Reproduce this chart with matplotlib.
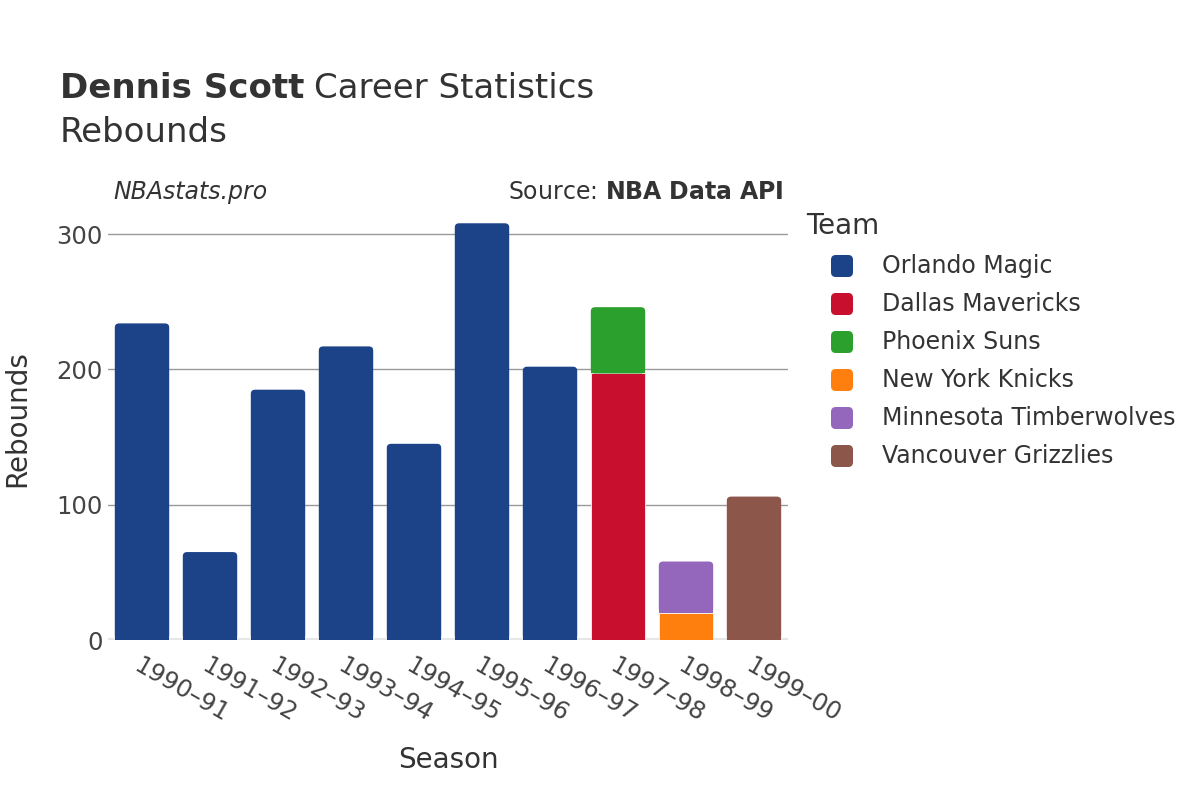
"""Dennis Scott career rebounds by season, stacked by team."""

import matplotlib

matplotlib.use("Agg")

import matplotlib.pyplot as plt
import numpy as np
from matplotlib.patches import FancyBboxPatch, Rectangle

seasons = ["1990–91", "1991–92", "1992–93", "1993–94", "1994–95",
           "1995–96", "1996–97", "1997–98", "1998–99", "1999–00"]
teams = ["Orlando Magic", "Dallas Mavericks", "Phoenix Suns",
         "New York Knicks", "Minnesota Timberwolves", "Vancouver Grizzlies"]
team_colors = ["#1c4287", "#c8102e", "#2ca02c", "#ff7f0e", "#9467bd", "#8c564b"]

orlando = [234, 65, 185, 217, 145, 308, 202, 0, 0, 0]
dallas = [0, 0, 0, 0, 0, 0, 0, 197, 0, 0]
phoenix = [0, 0, 0, 0, 0, 0, 0, 49, 0, 0]
knicks = [0, 0, 0, 0, 0, 0, 0, 0, 20, 0]
minnesota = [0, 0, 0, 0, 0, 0, 0, 0, 38, 0]
vancouver = [0, 0, 0, 0, 0, 0, 0, 0, 0, 106]
team_values = [orlando, dallas, phoenix, knicks, minnesota, vancouver]

text_color = "#333333"
plt.rcParams["font.family"] = ["DejaVu Sans"]

fig = plt.figure(figsize=(12, 8), dpi=100)
ax = fig.add_axes([108 / 1200, 160 / 800, 680 / 1200, 440 / 800])
ax.set_xlim(-0.5, len(seasons) - 0.5)
ax.set_ylim(0, 325.2)

x = np.arange(len(seasons))
totals = np.sum(team_values, axis=0)
bottom = np.zeros(len(seasons))
corner_x = 0.065
corner_y = 3.0
for values, color in zip(team_values, team_colors):
    values = np.array(values, dtype=float)
    mask = values > 0
    bars = ax.bar(x[mask], values[mask], bottom=bottom[mask], width=0.8,
                  color=color, edgecolor="#f4f4f4", linewidth=0.6, zorder=3)
    for patch, idx in zip(bars.patches, x[mask]):
        if bottom[idx] + values[idx] < totals[idx]:
            continue
        # top segment of the stack: give it rounded upper corners
        bx, by = patch.get_xy()
        w, h = patch.get_width(), patch.get_height()
        patch.set_visible(False)
        ax.add_patch(FancyBboxPatch(
            (bx, by), w, h,
            boxstyle=f"round,pad=0,rounding_size={corner_x}",
            mutation_aspect=corner_y / corner_x,
            facecolor=color, edgecolor="none", zorder=3))
        ax.add_patch(Rectangle((bx, by), w, max(h - 2 * corner_y, h / 2),
                               facecolor=color, edgecolor="none", zorder=3))
    bottom += values

ax.set_yticks([0, 100, 200, 300])
ax.yaxis.grid(True, color="#9a9a9a", linewidth=1, zorder=0)
ax.axhline(0, color="#e6e6e6", linewidth=3, zorder=2)
for spine in ax.spines.values():
    spine.set_visible(False)
ax.tick_params(axis="both", length=0, labelsize=17.5, labelcolor="#444444")
ax.tick_params(axis="y", pad=4)
ax.set_xticks(x)
ax.set_xticklabels(seasons, rotation=-30, ha="left", rotation_mode="anchor")
ax.tick_params(axis="x", pad=10)

fig.text(448 / 1200, 1 - 760 / 800, "Season", fontsize=20, color=text_color,
         ha="center", va="center")
fig.text(17 / 1200, 1 - 419 / 800, "Rebounds", fontsize=20, color=text_color,
         ha="center", va="center", rotation=90)

title_bold = fig.text(60 / 1200, 1 - 88 / 800, "Dennis Scott", fontsize=24.5,
                      weight="bold", color=text_color, va="center")
fig.canvas.draw()
bold_box = title_bold.get_window_extent()
fig.text((bold_box.x1 + 10) / 1200, 1 - 88 / 800, "Career Statistics",
         fontsize=24.5, color=text_color, va="center")
fig.text(60 / 1200, 1 - 132 / 800, "Rebounds", fontsize=24.5,
         color=text_color, va="center")
fig.text(113 / 1200, 1 - 192 / 800, "NBAstats.pro", fontsize=17,
         style="italic", color=text_color, va="center")
fig.text(784 / 1200, 1 - 192 / 800, "Source: $\\bf{NBA\\ Data\\ API}$",
         fontsize=17, color=text_color, va="center", ha="right")

# legend, drawn by hand to follow the reference spacing
fig.text(806 / 1200, 1 - 226 / 800, "Team", fontsize=20, color=text_color,
         va="center")
for i, (team, color) in enumerate(zip(teams, team_colors)):
    yc = 266 + 38 * i
    fig.patches.append(FancyBboxPatch(
        (831 / 1200, 1 - (yc + 11) / 800), 22 / 1200, 22 / 800,
        boxstyle="round,pad=0,rounding_size=0.004", mutation_aspect=1.5,
        transform=fig.transFigure, facecolor=color, edgecolor="none"))
    fig.text(882 / 1200, 1 - yc / 800, team, fontsize=17, color=text_color,
             va="center")

fig.savefig("out.png", dpi=100, facecolor="white")
